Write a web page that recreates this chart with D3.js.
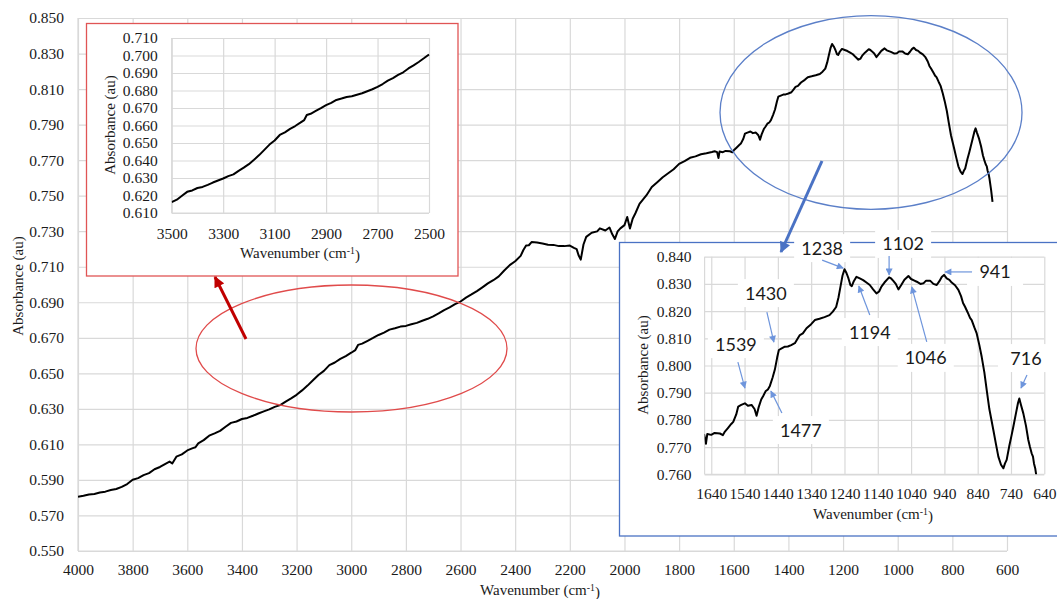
<!DOCTYPE html>
<html><head><meta charset="utf-8">
<script src="https://cdn.jsdelivr.net/npm/d3@7/dist/d3.min.js"></script>
<style>
html,body{margin:0;padding:0;background:#fff;overflow:hidden}
svg{display:block}
</style></head>
<body>
<svg id="chart" width="1057" height="599"></svg>
<script>
// ---------------- DATA ----------------
const wavenumbers = [
4000,3980,3960,3940,3920,3900,3880,3860,3840,3820,3800,3780,3760,3740,3720,3700,3680,3665,3655,3640,
3620,3600,3580,3570,3560,3540,3520,3500,3480,3460,3440,3420,3400,3380,3360,3340,3320,3300,3280,3260,
3240,3220,3200,3180,3160,3140,3120,3100,3080,3060,3040,3020,3000,2985,2975,2960,2940,2920,2900,2880,
2860,2840,2820,2800,2780,2760,2740,2720,2700,2680,2660,2640,2620,2600,2580,2560,2540,2520,2500,2480,
2460,2440,2420,2400,2380,2370,2360,2350,2340,2320,2300,2280,2260,2240,2220,2200,2185,2175,2168,2160,
2150,2140,2120,2100,2090,2070,2055,2045,2035,2025,2015,2000,1990,1980,1970,1960,1945,1920,1900,1880,
1860,1840,1820,1800,1780,1760,1740,1720,1700,1680,1670,1661,1656,1652,1640,1630,1614,1605,1599,1590,
1580,1574,1565,1559,1550,1539,1530,1519,1510,1504,1498,1490,1484,1477,1470,1464,1456,1449,1442,1437,
1430,1419,1410,1400,1389,1380,1374,1365,1354,1340,1329,1315,1300,1285,1275,1265,1258,1252,1246,1240,
1234,1228,1222,1218,1212,1204,1194,1184,1174,1164,1154,1144,1136,1129,1120,1106,1100,1094,1086,1078,
1070,1060,1048,1040,1030,1023,1012,1003,995,983,973,963,955,948,941,933,925,918,908,898,
890,884,878,870,863,858,850,843,835,828,820,813,805,798,793,785,778,770,763,758,
753,745,738,733,725,719,715,710,703,695,688,683,678,674,671,667,664,658,653
];
const absorbance = [
0.5805,0.5811,0.5818,0.5821,0.5829,0.5834,0.5843,0.5849,0.5861,0.5877,0.5901,0.5910,0.5927,0.5938,0.5960,0.5973,0.5991,0.6003,0.5993,0.6031,
0.6044,0.6066,0.6079,0.6084,0.6106,0.6124,0.6149,0.6162,0.6176,0.6199,0.6221,0.6229,0.6243,0.6249,0.6261,0.6274,0.6286,0.6297,0.6311,0.6321,
0.6341,0.6359,0.6379,0.6404,0.6431,0.6461,0.6491,0.6514,0.6546,0.6561,0.6581,0.6597,0.6616,0.6631,0.6660,0.6667,0.6683,0.6699,0.6716,0.6729,
0.6746,0.6754,0.6763,0.6767,0.6776,0.6784,0.6796,0.6807,0.6821,0.6837,0.6856,0.6871,0.6889,0.6904,0.6926,0.6944,0.6963,0.6984,0.7006,0.7024,
0.7046,0.7079,0.7109,0.7131,0.7161,0.7194,0.7219,0.7221,0.7239,0.7236,0.7231,0.7224,0.7223,0.7216,0.7216,0.7219,0.7206,0.7199,0.7165,0.7140,
0.7225,0.7268,0.7291,0.7299,0.7316,0.7304,0.7321,0.7284,0.7256,0.7299,0.7316,0.7334,0.7380,0.7315,0.7370,0.7401,0.7454,0.7501,0.7549,0.7576,
0.7604,0.7626,0.7649,0.7679,0.7694,0.7713,0.7721,0.7733,0.7739,0.7746,0.7750,0.7745,0.7712,0.7748,0.7745,0.7752,0.7750,0.7744,0.7757,0.7770,
0.7785,0.7793,0.7820,0.7849,0.7855,0.7861,0.7852,0.7855,0.7840,0.7815,0.7845,0.7875,0.7888,0.7905,0.7912,0.7925,0.7955,0.7985,0.8030,0.8057,
0.8062,0.8069,0.8070,0.8075,0.8082,0.8100,0.8112,0.8118,0.8137,0.8152,0.8167,0.8172,0.8178,0.8185,0.8198,0.8215,0.8250,0.8290,0.8330,0.8354,
0.8340,0.8320,0.8295,0.8292,0.8310,0.8326,0.8320,0.8314,0.8305,0.8296,0.8280,0.8265,0.8272,0.8290,0.8305,0.8324,0.8320,0.8312,0.8300,0.8280,
0.8295,0.8315,0.8329,0.8318,0.8312,0.8308,0.8300,0.8302,0.8312,0.8312,0.8300,0.8296,0.8310,0.8325,0.8333,0.8320,0.8315,0.8305,0.8295,0.8278,
0.8255,0.8230,0.8216,0.8195,0.8175,0.8167,0.8140,0.8118,0.8075,0.8032,0.7975,0.7910,0.7840,0.7795,0.7763,0.7710,0.7665,0.7635,0.7622,0.7640,
0.7653,0.7705,0.7745,0.7775,0.7825,0.7862,0.7879,0.7855,0.7824,0.7778,0.7726,0.7700,0.7677,0.7665,0.7640,0.7620,0.7595,0.7530,0.7465
];

const mainXTicks = [4000,3800,3600,3400,3200,3000,2800,2600,2400,2200,2000,1800,1600,1400,1200,1000,800,600];
const mainYTicks = [0.550,0.570,0.590,0.610,0.630,0.650,0.670,0.690,0.710,0.730,0.750,0.770,0.790,0.810,0.830,0.850];
const inset1XTicks = [3500,3300,3100,2900,2700,2500];
const inset1YTicks = [0.610,0.620,0.630,0.640,0.650,0.660,0.670,0.680,0.690,0.700,0.710];
const inset2XTicks = [1640,1540,1440,1340,1240,1140,1040,940,840,740,640];
const inset2YTicks = [0.760,0.770,0.780,0.790,0.800,0.810,0.820,0.830,0.840];

const peakLabels = ["1238","1102","941","1430","1194","1046","1539","1477","716"];
// arrow tip locations (wavenumber, absorbance) in the zoomed panel
const peakTipWn  = [1244,1106,938,1452,1197,1038,1539,1461,710];
const peakTipAbs = [0.8358,0.8333,0.8344,0.8086,0.8292,0.8289,0.7917,0.7906,0.7917];

// ---------------- LAYOUT ----------------
const annoOffsets = [ // [startDx,startDy,labelDx,labelDy]
  [-21,-8,-21,-20],[0,-19,14,-31],[27,0,50,0],[-7,-30,-8,-49],[11,29,11,46],
  [15,55,14,71],[-7,-26,-9,-44],[11,22,30,39],[6,-13,5,-30]];

const svg = d3.select("#chart");
const SERIF = "Liberation Serif";
const SANS = "Lato";
const GRID = "#d9d9d9";
const pts = wavenumbers.map((w,i)=>({w, a: absorbance[i]}));

const defs = svg.append("defs");
function marker(id, color, w, h){
  defs.append("marker").attr("id", id).attr("viewBox","0 0 10 10")
    .attr("refX", 9).attr("refY", 5).attr("markerWidth", w).attr("markerHeight", h)
    .attr("markerUnits","userSpaceOnUse").attr("orient","auto")
    .append("path").attr("d","M0,0 L10,5 L0,10 z").attr("fill", color);
}
marker("arRed", "#c00000", 12, 11);
marker("arBlue", "#4a72c4", 12, 11);
marker("arLite", "#6e95dc", 8, 7);

function panel(g, o){
  const x = d3.scaleLinear().domain(o.xd).range(o.xr);
  const y = d3.scaleLinear().domain(o.yd).range(o.yr);
  const w = Math.abs(o.xr[1]-o.xr[0]), h = Math.abs(o.yr[0]-o.yr[1]);
  const left = Math.min(...o.xr), top = Math.min(...o.yr), bottom = Math.max(...o.yr);
  const ya = g.append("g").attr("transform",`translate(${left},0)`)
    .call(d3.axisLeft(y).tickValues(o.yt).tickFormat(d3.format(".3f"))
      .tickSizeInner(-w).tickSizeOuter(0).tickPadding(o.yPad));
  const xa = g.append("g").attr("transform",`translate(0,${bottom})`)
    .call(d3.axisBottom(x).tickValues(o.xt).tickFormat(d3.format("d"))
      .tickSizeInner(-h).tickSizeOuter(0).tickPadding(o.xPad));
  [ya, xa].forEach(a=>{
    a.attr("font-family", null).attr("font-size", null);
    a.select(".domain").remove();
    a.selectAll("line").attr("stroke", GRID).attr("stroke-width", 1.2);
    a.selectAll("text").style("font-family", SERIF).style("font-size", o.fs + "px")
      .attr("fill", "#1a1a1a");
  });
  g.append("line").attr("x1",left).attr("x2",left).attr("y1",top).attr("y2",bottom)
    .attr("stroke",GRID).attr("stroke-width",1.2);
  g.append("line").attr("x1",left).attr("x2",left+w).attr("y1",bottom).attr("y2",bottom)
    .attr("stroke",GRID).attr("stroke-width",1.2);
  const cid = o.id + "clip";
  defs.append("clipPath").attr("id", cid).append("rect")
    .attr("x", left).attr("y", top-1).attr("width", w+1).attr("height", h+1);
  const lo = Math.min(...o.xd), hi = Math.max(...o.xd);
  const data = pts.filter(p => p.w >= lo-15 && p.w <= hi+15);
  g.append("path").datum(data).attr("clip-path", `url(#${cid})`)
    .attr("fill","none").attr("stroke","#000").attr("stroke-width", o.lw)
    .attr("stroke-linejoin","round")
    .attr("d", d3.line().x(p=>x(p.w)).y(p=>y(p.a)));
  g.append("text").attr("transform",`translate(${o.ytx},${o.yty}) rotate(-90)`)
    .attr("text-anchor","middle").attr("dy","0.35em")
    .style("font-family",SERIF).style("font-size",o.tfs+"px").attr("fill","#1a1a1a")
    .text("Absorbance (au)");
  const xt = g.append("text").attr("x",o.xtx).attr("y",o.xty)
    .attr("text-anchor","middle")
    .style("font-family",SERIF).style("font-size",o.tfs+"px").attr("fill","#1a1a1a");
  xt.append("tspan").text("Wavenumber (cm");
  xt.append("tspan").attr("dy","-0.4em").style("font-size", (o.tfs*0.65)+"px").text("-1");
  xt.append("tspan").attr("dy","0.4em").text(")");
  return {x, y};
}

// ---------- main chart ----------
const gMain = svg.append("g");
panel(gMain, {id:"main", xd:[4000,600], xr:[78,1007], yd:[0.55,0.85], yr:[551,18],
  xt: mainXTicks, yt: mainYTicks, xPad: 13, yPad: 14, fs: 15.5, lw: 2,
  tfs: 15, ytx: 18, yty: 286, xtx: 540, xty: 595});

svg.append("ellipse").attr("cx",351.5).attr("cy",348.5).attr("rx",155.5).attr("ry",63.5)
  .attr("fill","none").attr("stroke","#e04b4b").attr("stroke-width",1.3);
svg.append("ellipse").attr("cx",871).attr("cy",112.5).attr("rx",151).attr("ry",96.8)
  .attr("fill","none").attr("stroke","#5b7fc8").attr("stroke-width",1.3);

// ---------- inset 1 ----------
svg.append("rect").attr("x",86.5).attr("y",23.5).attr("width",371.5).attr("height",252.5)
  .attr("fill","#fff").attr("stroke","#e05555").attr("stroke-width",1.3);
const gIn1 = svg.append("g");
panel(gIn1, {id:"in1", xd:[3500,2500], xr:[171.7,429], yd:[0.61,0.71], yr:[213,38],
  xt: inset1XTicks, yt: inset1YTicks, xPad: 14.5, yPad: 14, fs: 15.5, lw: 2,
  tfs: 15, ytx: 110, yty: 125, xtx: 300, xty: 258});

// ---------- inset 2 ----------
svg.append("rect").attr("x",619.5).attr("y",242.5).attr("width",460).attr("height",293.5)
  .attr("fill","#fff").attr("stroke","#4a72c4").attr("stroke-width",1.3);
const gIn2 = svg.append("g");
const s2 = panel(gIn2, {id:"in2", xd:[1660,640], xr:[704.6,1044.3], yd:[0.76,0.84], yr:[474.3,256.7],
  xt: inset2XTicks, yt: inset2YTicks, xPad: 13.5, yPad: 13, fs: 15.5, lw: 2,
  tfs: 15, ytx: 643, yty: 365, xtx: 873, xty: 519});

svg.append("line").attr("x1",246).attr("y1",339).attr("x2",215).attr("y2",277)
  .attr("stroke","#c00000").attr("stroke-width",3).attr("marker-end","url(#arRed)");
svg.append("line").attr("x1",822).attr("y1",161).attr("x2",781).attr("y2",252)
  .attr("stroke","#4a72c4").attr("stroke-width",3).attr("marker-end","url(#arBlue)");

// ---------- peak annotations ----------
const gA = svg.append("g");
peakLabels.forEach((lab,i)=>{
  const tx = s2.x(peakTipWn[i]), ty = s2.y(peakTipAbs[i]);
  const [sdx,sdy,ldx,ldy] = annoOffsets[i];
  gA.append("rect").attr("x", tx+ldx-28).attr("y", ty+ldy-14).attr("width",56).attr("height",28)
    .attr("fill","#fff");
  gA.append("text").attr("x", tx+ldx).attr("y", ty+ldy).attr("dy","0.36em")
    .attr("text-anchor","middle").style("font-family",SANS).style("font-size","18px")
    .attr("fill","#1a1a1a").text(lab);
  gA.append("line").attr("x1",tx+sdx).attr("y1",ty+sdy).attr("x2",tx).attr("y2",ty)
    .attr("stroke","#6e95dc").attr("stroke-width",1.2).attr("marker-end","url(#arLite)");
});
</script>
</body></html>
